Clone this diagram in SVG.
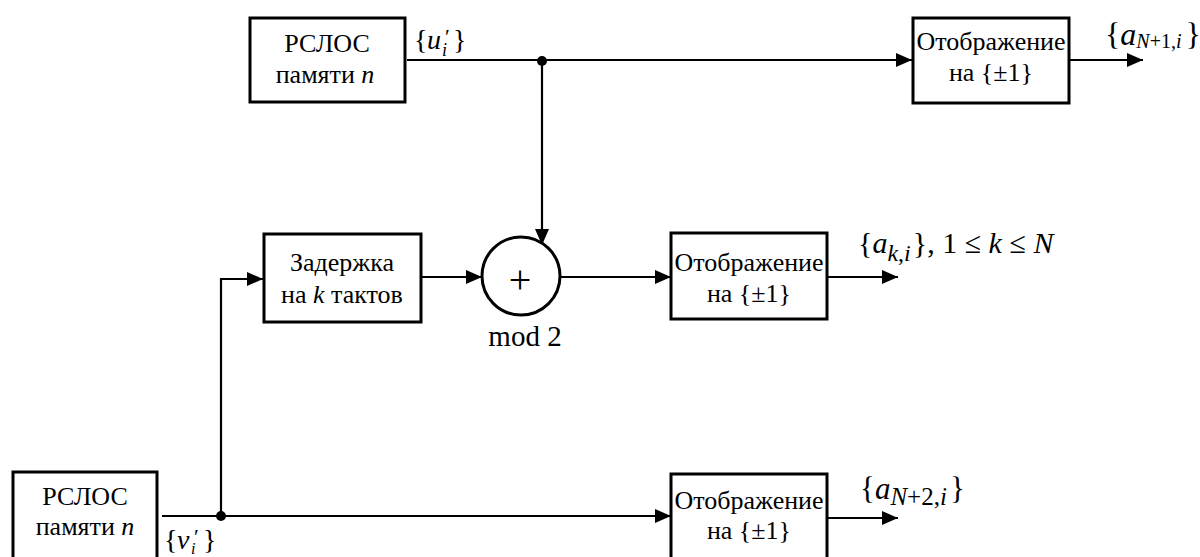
<svg xmlns="http://www.w3.org/2000/svg" width="1200" height="557" viewBox="0 0 1200 557">
<defs>
<marker id="ah" markerWidth="16" markerHeight="14" refX="16" refY="7" orient="auto" markerUnits="userSpaceOnUse">
<path d="M0,0 L16,7 L0,14 Z" fill="#000"/>
</marker>
<style>
.box{fill:#fff;stroke:#000;stroke-width:3}
.ln{fill:none;stroke:#000;stroke-width:2.2}
text{fill:#000;font-family:'Liberation Serif','Times New Roman',serif}
.t{font-size:26px;text-anchor:middle}
.i{font-style:italic}
</style>
</defs>
<g id="connectors">
<line class="ln" x1="407" y1="60" x2="912" y2="60" marker-end="url(#ah)"/>
<line class="ln" x1="542" y1="60" x2="542" y2="245" marker-end="url(#ah)"/>
<line class="ln" x1="1069" y1="60" x2="1143" y2="60" marker-end="url(#ah)"/>
<line class="ln" x1="422" y1="277" x2="482" y2="277" marker-end="url(#ah)"/>
<line class="ln" x1="560" y1="277" x2="671" y2="277" marker-end="url(#ah)"/>
<line class="ln" x1="827" y1="277" x2="898" y2="277" marker-end="url(#ah)"/>
<line class="ln" x1="162" y1="516" x2="671" y2="516" marker-end="url(#ah)"/>
<polyline class="ln" points="221,516 221,279 263,279" marker-end="url(#ah)"/>
<line class="ln" x1="827" y1="518" x2="898" y2="518" marker-end="url(#ah)"/>
<circle cx="542" cy="61" r="5" fill="#000"/>
<circle cx="221" cy="516" r="5" fill="#000"/>
</g>
<g id="lfsr1">
<rect class="box" x="250" y="18" width="155" height="84"/>
<text class="t" x="327" y="52">РСЛОС</text>
<text class="t" x="325" y="83">памяти <tspan class="i">n</tspan></text>
<text font-size="28" x="414" y="49">{<tspan class="i" x="427">u</tspan><tspan font-size="22" x="445" y="44">′</tspan><tspan class="i" font-size="18" x="442" y="56">i</tspan><tspan x="453" y="49">}</tspan></text>
</g>
<g id="map1">
<rect class="box" x="913" y="18" width="156" height="85"/>
<text class="t" x="991" y="50">Отображение</text>
<text class="t" x="991" y="81">на {±1}</text>
<text font-size="32" x="1105" y="45">{<tspan class="i">a</tspan><tspan class="i" font-size="20" dy="3">N</tspan><tspan font-size="20">+1,</tspan><tspan class="i" font-size="20">i</tspan><tspan dx="4" dy="-3">}</tspan></text>
</g>
<g id="delay">
<rect class="box" x="264" y="234" width="157" height="88"/>
<text class="t" x="342" y="271">Задержка</text>
<text class="t" x="342" y="303">на <tspan class="i">k</tspan> тактов</text>
</g>
<g id="xor">
<circle cx="521" cy="276" r="39" fill="#fff" stroke="#000" stroke-width="3"/>
<text font-size="40" x="520" y="293" text-anchor="middle">+</text>
<text font-size="29" x="525" y="346" text-anchor="middle">mod 2</text>
</g>
<g id="map2">
<rect class="box" x="671" y="233" width="156" height="86"/>
<text class="t" x="749" y="271">Отображение</text>
<text class="t" x="749" y="302">на {±1}</text>
<text font-size="30" x="858" y="253">{<tspan class="i">a</tspan><tspan class="i" font-size="24" dy="8">k</tspan><tspan font-size="24">,</tspan><tspan class="i" font-size="24">i</tspan><tspan dx="2" dy="-8">}, 1 ≤ </tspan><tspan class="i">k</tspan> ≤ <tspan class="i">N</tspan></text>
</g>
<g id="lfsr2">
<rect class="box" x="13" y="472" width="144" height="90"/>
<text class="t" x="85" y="505">РСЛОС</text>
<text class="t" x="85" y="535">памяти <tspan class="i">n</tspan></text>
<text font-size="28" x="164" y="549">{<tspan class="i" x="177">v</tspan><tspan font-size="22" x="194" y="544">′</tspan><tspan class="i" font-size="16" x="191" y="554">i</tspan><tspan x="203" y="549">}</tspan></text>
</g>
<g id="map3">
<rect class="box" x="671" y="474" width="156" height="90"/>
<text class="t" x="749" y="509">Отображение</text>
<text class="t" x="749" y="539">на {±1}</text>
<text font-size="31" x="860" y="499">{<tspan class="i">a</tspan><tspan class="i" font-size="25" dy="6">N</tspan><tspan font-size="25">+2,</tspan><tspan class="i" font-size="25">i</tspan><tspan dx="3" dy="-6">}</tspan></text>
</g>
</svg>
